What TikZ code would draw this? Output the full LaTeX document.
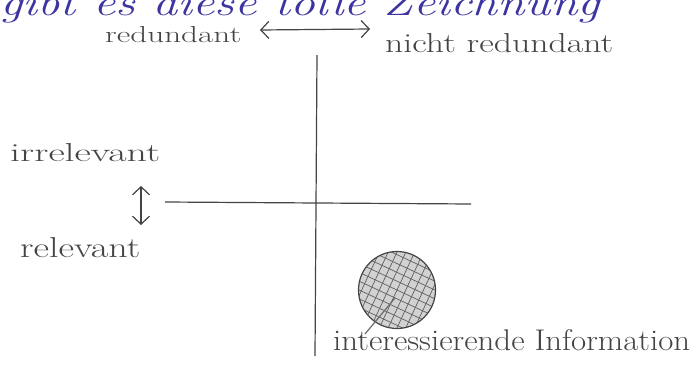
\documentclass[tikz,border=0pt]{standalone}
\usetikzlibrary{arrows.meta}
\definecolor{ink}{HTML}{444444}
\definecolor{blueink}{HTML}{3C34A0}
\newcommand{\hwtext}[3]{\resizebox{#1pt}{#2pt}{#3}}
\tikzset{
  hand/.style={text=ink, inner sep=0pt, font=\fontsize{22}{24}\selectfont},
  stroke/.style={draw=ink, line width=1.2pt},
  dbl/.style={stroke, {Straight Barb[length=8pt,width=17pt]}-{Straight Barb[length=8pt,width=17pt]}}
}
\begin{document}
\begin{tikzpicture}[x=1pt,y=-1pt]
\useasboundingbox (0,0) rectangle (699,372);
\fill[white] (0,0) rectangle (699,372);
\begin{scope}
\clip (0,0) rectangle (699,372);
% cut-off blue title
\node[anchor=base west, inner sep=0pt, text=blueink, font=\fontsize{36}{40}\selectfont\itshape] (title) at (0,15) {\hwtext{600}{26}{gibt es diese tolle Zeichnung}};
\end{scope}
% top labels
\node[hand, anchor=base west] (red) at (105,42) {\hwtext{136}{16}{redundant}};
\node[hand, anchor=base west] (nred) at (385,52) {\hwtext{228}{19}{nicht redundant}};
\coordinate (ra) at (260,30);
\coordinate (rb) at (370,29);
\draw[dbl] (ra) -- (rb);
% axes
\coordinate (vtop) at (317,55);
\coordinate (vbot) at (315,356);
\coordinate (hl) at (165,202);
\coordinate (hr) at (471,204);
\draw[stroke] (vtop) -- (vbot);
\draw[stroke] (hl) -- (hr);
% left labels
\node[hand, anchor=base west] (irr) at (10,161) {\hwtext{150}{18}{irrelevant}};
\node[hand, anchor=base west] (rel) at (20,257) {\hwtext{120}{20}{relevant}};
\coordinate (ua) at (141,186);
\coordinate (ub) at (141,225);
\draw[dbl] (ua) -- (ub);
% hatched circle
\node[circle, minimum size=77pt, inner sep=0pt] (blob) at (397,290) {};
\begin{scope}
  \clip (397,290) circle (38.5pt);
  \fill[gray!35] (397,290) circle (38.5pt);
  \begin{scope}[rotate around={-25:(397,290)}]
    \foreach \k in {-40,-32,...,40} {
      \draw[gray!75!black, line width=0.7pt] (397+\k,245) -- (397+\k,335);
      \draw[gray!75!black, line width=0.7pt] (350,290+\k) -- (445,290+\k);
    }
  \end{scope}
\end{scope}
\draw[stroke] (blob.center) circle (38.5pt);
% label and pointer
\node[hand, anchor=base west] (info) at (333,350) {\hwtext{357}{21}{interessierende Information}};
\coordinate (pin) at (395,298);
\coordinate (pend) at (365,334);
\draw[draw=ink!80, line width=1.2pt] (pin) -- (pend);
\end{tikzpicture}
\end{document}
